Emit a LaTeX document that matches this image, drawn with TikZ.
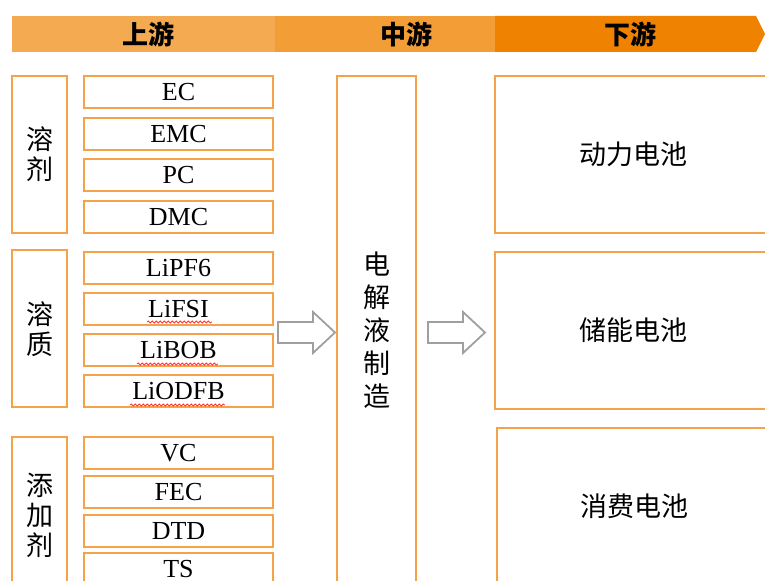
\documentclass[tikz,border=0pt]{standalone}
\usepackage{fontspec}
\setmainfont{Liberation Serif}
\newfontfamily\cjk{Noto Sans CJK SC}
\usetikzlibrary{calc}
\usetikzlibrary{decorations.pathmorphing}
\definecolor{upcol}{HTML}{F4AA50}
\definecolor{midcol}{HTML}{F29D35}
\definecolor{downcol}{HTML}{EF8200}
\definecolor{framecol}{HTML}{F6A24A}
\tikzstyle{item} = [draw=framecol, line width=1pt, minimum width=94.5pt, minimum height=16pt, inner sep=0pt, font=\fontsize{13}{13}\selectfont]
\tikzstyle{cat} = [draw=framecol, line width=1pt, minimum width=27.5pt, minimum height=78.5pt, inner sep=0pt, align=center, font=\cjk\fontsize{13.5}{15}\selectfont]
\tikzstyle{market} = [draw=framecol, line width=1pt, minimum width=138pt, minimum height=78.5pt, inner sep=0pt, font=\cjk\fontsize{13.5}{15}\selectfont]
\tikzstyle{spell} = [red!80, line width=0.4pt, decorate, decoration={snake, amplitude=0.5pt, segment length=2pt}]

\begin{document}
\begin{tikzpicture}[x=0.5pt, y=-0.5pt]
        \tikzstyle{stage} = [font=\cjk\bfseries\fontsize{13}{13}\selectfont]
        \tikzstyle{blockarrow} = [draw=gray!75, line width=0.9pt, fill=white, line join=miter]

        \useasboundingbox (0,0) rectangle (765,581);
        \clip (0,0) rectangle (765,581);

        % header band
        \fill[upcol] (12,16) rectangle (275,52);
        \fill[midcol] (275,16) rectangle (495,52);
        \fill[downcol] (495,16) -- (756,16) -- (765,34) -- (756,52) -- (495,52) -- cycle;
        \node (up) at (148,34) [stage] {上游};
        \node (mid) at (406,34) [stage] {中游};
        \node (down) at (630,34) [stage] {下游};

        % upstream: solvents
        \node (solvent) at (39.5,154.5) [cat] {溶\\剂};
        \node (ec) at (178.5,92) [item] {EC};
        \node (emc) at (178.5,134.5) [item] {EMC};
        \node (pc) at (178.5,175) [item] {PC};
        \node (dmc) at (178.5,217.5) [item] {DMC};

        % upstream: solutes
        \node (solute) at (39.5,329) [cat] {溶\\质};
        \node (lipf) at (178.5,268.5) [item] {LiPF6};
        \node (lifsi) at (178.5,309.5) [item] {LiFSI};
        \node (libob) at (178.5,350) [item] {LiBOB};
        \node (liodfb) at (178.5,391) [item] {LiODFB};
        \draw[spell] ([shift={(-31.5,12.5)}]lifsi.center) -- ([shift={(33.5,12.5)}]lifsi.center);
        \draw[spell] ([shift={(-41.5,14)}]libob.center) -- ([shift={(39.5,14)}]libob.center);
        \draw[spell] ([shift={(-48.5,14)}]liodfb.center) -- ([shift={(46.5,14)}]liodfb.center);

        % upstream: additives
        \node (additive) at (39.5,515.5) [cat] {添\\加\\剂};
        \node (vc) at (178.5,453) [item] {VC};
        \node (fec) at (178.5,492) [item] {FEC};
        \node (dtd) at (178.5,531) [item] {DTD};
        \node (ts) at (178.5,569.5) [item] {TS};

        % midstream
        \node (make) at (376.5,330) [cat, minimum width=39.5pt, minimum height=254pt, font=\cjk\fontsize{13.5}{16.5}\selectfont] {电\\解\\液\\制\\造};

        % downstream
        \node (power) at (633,154.5) [market] {动力电池};
        \node (storage) at (633,330.5) [market] {储能电池};
        \node (consumer) at (634,506.5) [market, minimum width=137pt] {消费电池};

        % hollow arrows
        \foreach \x in {278,428}{
                \draw[blockarrow] (\x,322) -- (\x+35,322) -- (\x+35,312) -- (\x+57,332.5)
                        -- (\x+35,353) -- (\x+35,343) -- (\x,343) -- cycle;
            }
    \end{tikzpicture}
\end{document}
